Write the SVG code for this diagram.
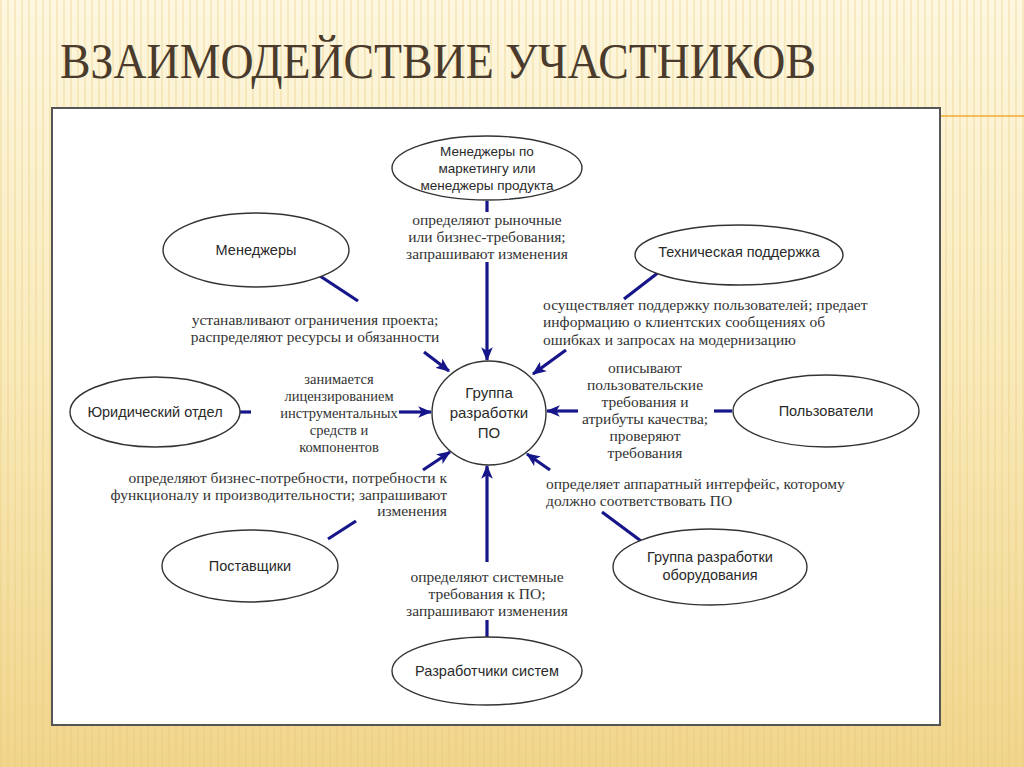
<svg xmlns="http://www.w3.org/2000/svg" width="1024" height="767" viewBox="0 0 1024 767">
<defs>
<linearGradient id="bg" x1="0" y1="0" x2="0" y2="1">
<stop offset="0" stop-color="#fdf7e0"/>
<stop offset="0.45" stop-color="#faebbd"/>
<stop offset="1" stop-color="#f0d58c"/>
</linearGradient>
<pattern id="stripes" width="7" height="40" patternUnits="userSpaceOnUse">
<rect x="0" y="0" width="2" height="40" fill="#e6c474" opacity="0.28"/>
</pattern>
<marker id="ah" viewBox="0 0 12 10" refX="11" refY="5" markerWidth="14" markerHeight="12" markerUnits="userSpaceOnUse" orient="auto">
<path d="M0,0 L12,5 L0,10 L3,5 Z" fill="#16168a"/>
</marker>
<style>
.node{fill:#ffffff;stroke:#333333;stroke-width:1.4}
.nt{font-family:"Liberation Sans",Arial,sans-serif;font-size:14.5px;fill:#2a2a2a;text-anchor:middle}
.nt.sm{font-size:13.5px}
.nt.lg{font-size:15px}
.lb{font-family:"Liberation Serif","Times New Roman",serif;font-size:15.5px;fill:#333333}
.lb.sm{font-size:14.5px}
.c{text-anchor:middle}
.e{text-anchor:end}
.con{stroke:#16168a;stroke-width:3.2;fill:none}
.arr{stroke:#16168a;stroke-width:3.2;fill:none;marker-end:url(#ah)}
</style>
</defs>
<rect width="1024" height="767" fill="url(#bg)"/>
<rect width="1024" height="767" fill="url(#stripes)"/>
<text x="60" y="78" font-family="'Liberation Serif','Times New Roman',serif" font-size="50" fill="#4a3b2c" textLength="756" lengthAdjust="spacingAndGlyphs">ВЗАИМОДЕЙСТВИЕ УЧАСТНИКОВ</text>
<line x1="940" y1="116" x2="1024" y2="116" stroke="#f0a830" stroke-width="1.5"/>
<rect x="52" y="108" width="888" height="617" fill="#ffffff" stroke="#555555" stroke-width="2"/>

<g id="connectors">
<line class="con" x1="487" y1="201" x2="487" y2="212"/>
<line class="arr" x1="487" y1="262" x2="487" y2="360"/>
<line class="con" x1="320" y1="276" x2="358" y2="301"/>
<line class="arr" x1="424" y1="352" x2="449" y2="371"/>
<line class="con" x1="659" y1="272" x2="624" y2="299"/>
<line class="arr" x1="566" y1="350" x2="533" y2="374"/>
<line class="con" x1="240" y1="412" x2="251" y2="412"/>
<line class="arr" x1="399" y1="412" x2="431" y2="412"/>
<line class="con" x1="714" y1="411" x2="732" y2="411"/>
<line class="arr" x1="578" y1="411" x2="547" y2="411"/>
<line class="con" x1="328" y1="539" x2="356" y2="521"/>
<line class="arr" x1="423" y1="470" x2="450" y2="452"/>
<line class="con" x1="602" y1="512" x2="641" y2="541"/>
<line class="arr" x1="550" y1="470" x2="527" y2="454"/>
<line class="arr" x1="487" y1="562" x2="487" y2="466"/>
<line class="con" x1="487" y1="620" x2="487" y2="637"/>
</g>

<g id="center">
<ellipse class="node" cx="489" cy="413" rx="57" ry="52"/>
<text class="nt lg" x="489" y="398">Группа</text>
<text class="nt lg" x="489" y="418">разработки</text>
<text class="nt lg" x="489" y="438">ПО</text>
</g>

<g id="n-marketing">
<ellipse class="node" cx="487" cy="168" rx="95" ry="32"/>
<text class="nt sm" x="487" y="156">Менеджеры по</text>
<text class="nt sm" x="487" y="173">маркетингу или</text>
<text class="nt sm" x="487" y="190">менеджеры продукта</text>
<text class="lb c" x="487" y="225">определяют рыночные</text>
<text class="lb c" x="487" y="242">или бизнес-требования;</text>
<text class="lb c" x="487" y="259">запрашивают изменения</text>
</g>

<g id="n-managers">
<ellipse class="node" cx="256" cy="250" rx="93" ry="37"/>
<text class="nt" x="256" y="255">Менеджеры</text>
<text class="lb c" x="315" y="325">устанавливают ограничения проекта;</text>
<text class="lb c" x="315" y="342">распределяют ресурсы и обязанности</text>
</g>

<g id="n-support">
<ellipse class="node" cx="739" cy="255" rx="104" ry="30"/>
<text class="nt" x="739" y="257">Техническая поддержка</text>
<text class="lb" x="543" y="310">осуществляет поддержку пользователей; предает</text>
<text class="lb" x="543" y="327">информацию о клиентских сообщениях об</text>
<text class="lb" x="543" y="345">ошибках и запросах на модернизацию</text>
</g>

<g id="n-legal">
<ellipse class="node" cx="155" cy="412" rx="85" ry="35"/>
<text class="nt" x="155" y="417">Юридический отдел</text>
<text class="lb c sm" x="339" y="384">занимается</text>
<text class="lb c sm" x="339" y="401">лицензированием</text>
<text class="lb c sm" x="339" y="418">инструментальных</text>
<text class="lb c sm" x="339" y="435">средств и</text>
<text class="lb c sm" x="339" y="452">компонентов</text>
</g>

<g id="n-users">
<ellipse class="node" cx="826" cy="411" rx="93" ry="36"/>
<text class="nt" x="826" y="416">Пользователи</text>
<text class="lb c" x="645" y="373">описывают</text>
<text class="lb c" x="645" y="390">пользовательские</text>
<text class="lb c" x="645" y="407">требования и</text>
<text class="lb c" x="645" y="424">атрибуты качества;</text>
<text class="lb c" x="645" y="441">проверяют</text>
<text class="lb c" x="645" y="458">требования</text>
</g>

<g id="n-suppliers">
<ellipse class="node" cx="250" cy="566" rx="88" ry="36"/>
<text class="nt" x="250" y="571">Поставщики</text>
<text class="lb e" x="447" y="483">определяют бизнес-потребности, потребности к</text>
<text class="lb e" x="447" y="500">функционалу и производительности; запрашивают</text>
<text class="lb e" x="447" y="516">изменения</text>
</g>

<g id="n-hardware">
<ellipse class="node" cx="710" cy="567" rx="97" ry="38"/>
<text class="nt" x="710" y="562">Группа разработки</text>
<text class="nt" x="710" y="580">оборудования</text>
<text class="lb" x="546" y="489">определяет аппаратный интерфейс, которому</text>
<text class="lb" x="546" y="506">должно соответствовать ПО</text>
</g>

<g id="n-sysdev">
<ellipse class="node" cx="487" cy="671" rx="95" ry="34"/>
<text class="nt" x="487" y="676">Разработчики систем</text>
<text class="lb c" x="487" y="582">определяют системные</text>
<text class="lb c" x="487" y="599">требования к ПО;</text>
<text class="lb c" x="487" y="616">запрашивают изменения</text>
</g>
</svg>
